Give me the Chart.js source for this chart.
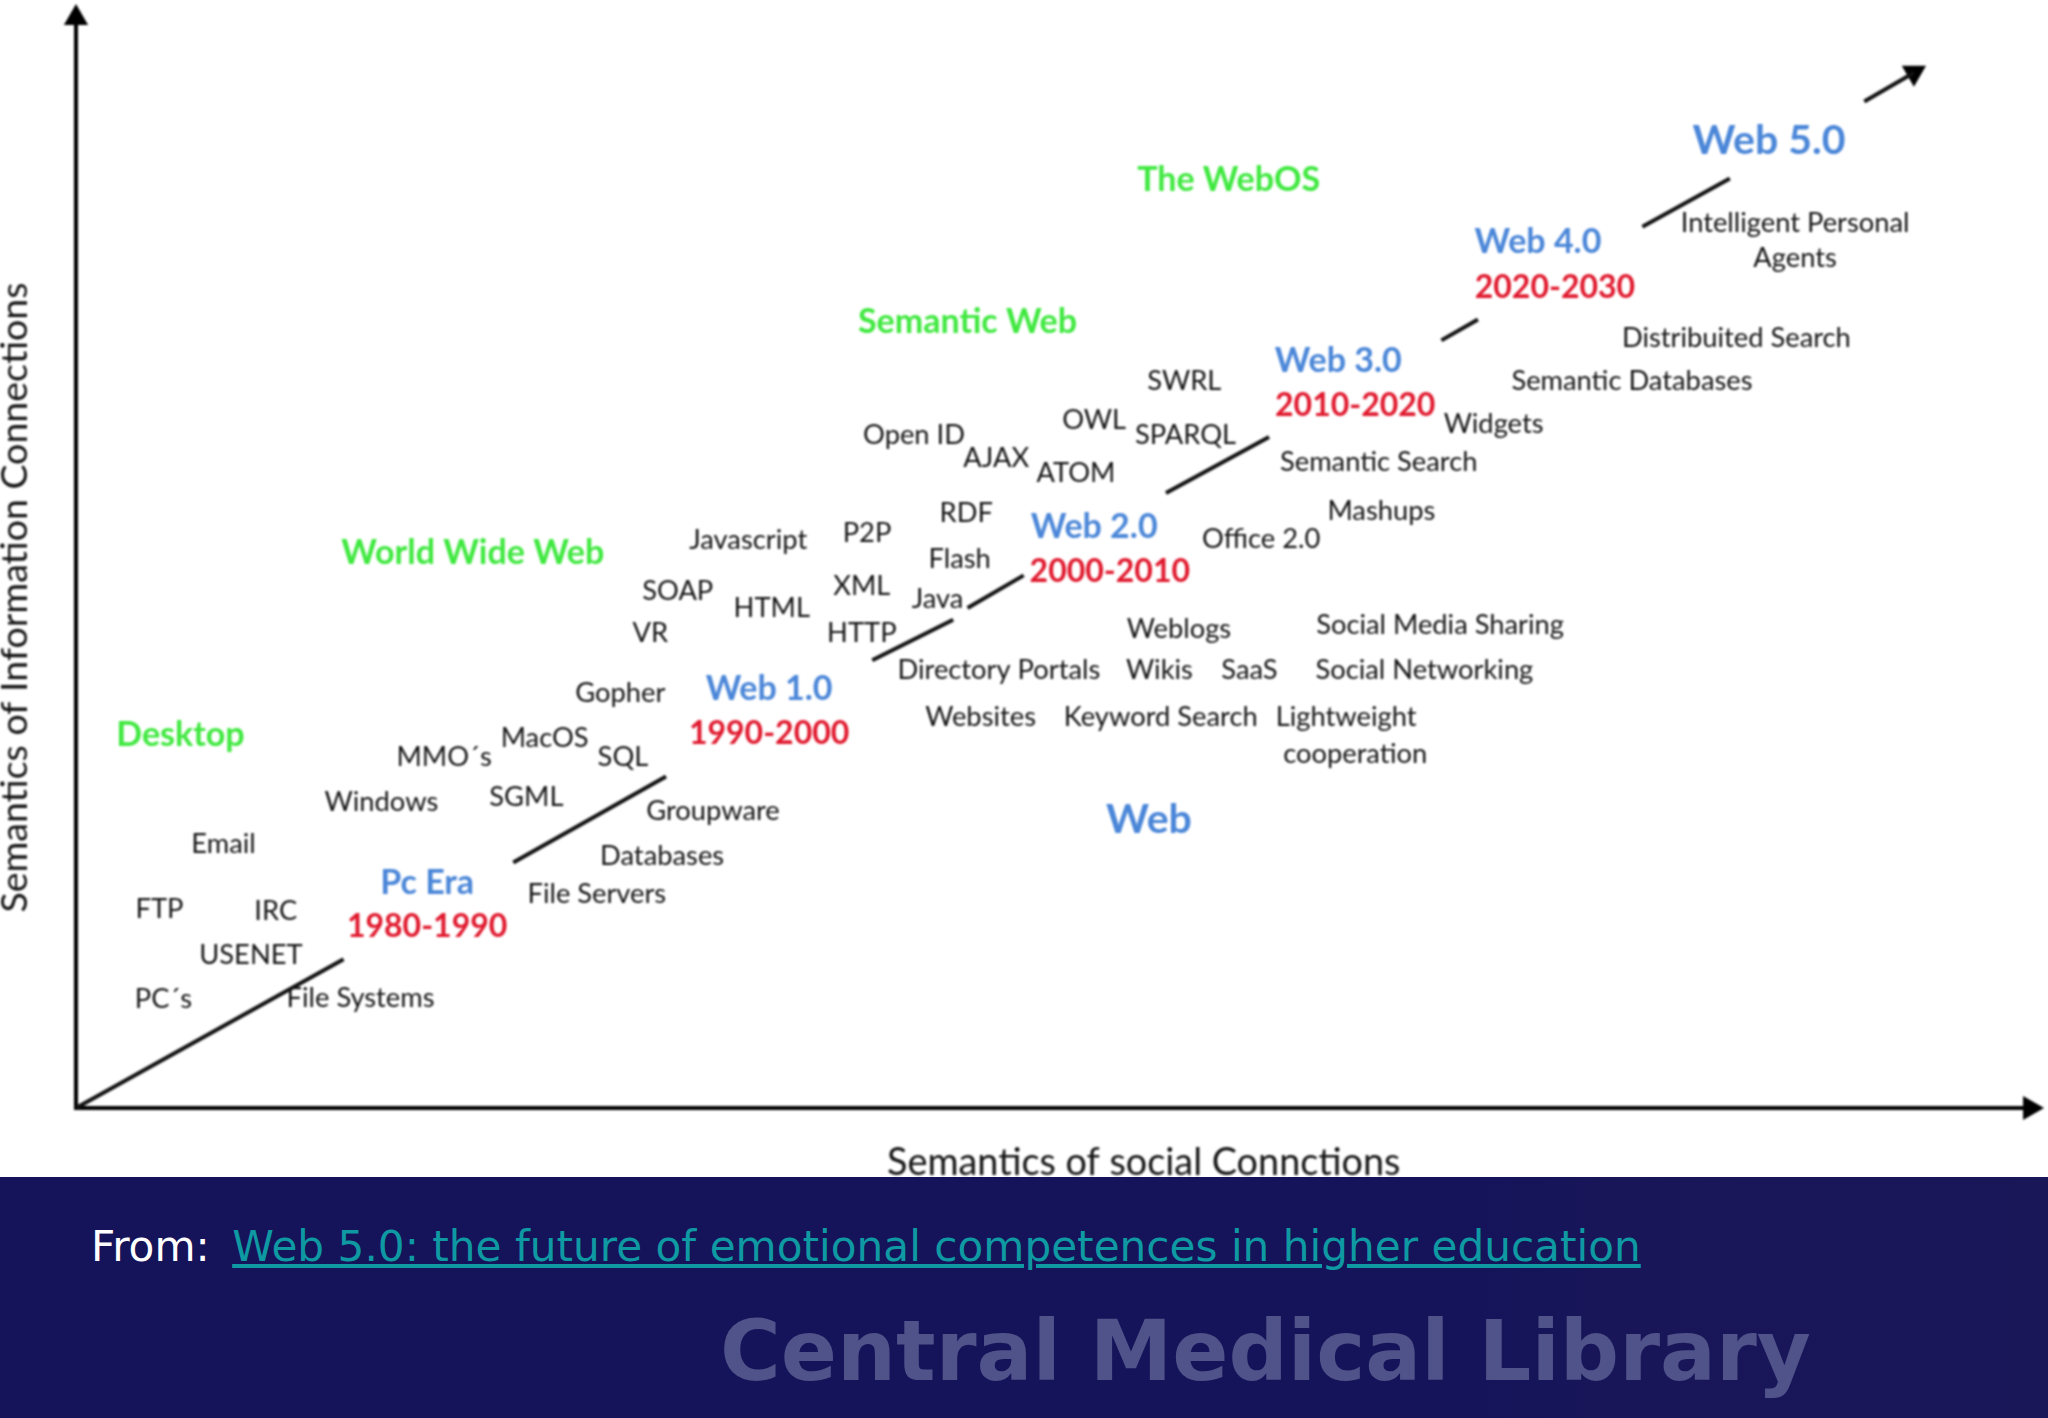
<!DOCTYPE html>
<html>
<head>
<meta charset="utf-8">
<style>
  html, body { margin: 0; padding: 0; background: #fff; overflow: hidden; }
  #wrap { position: relative; width: 2048px; height: 1418px; }
  #grafico { position: absolute; left: 0; top: 0; filter: blur(1.1px); }
  #faixa { position: absolute; left: 0; top: 1177px; width: 2048px; height: 241px; background: linear-gradient(90deg, #15135a 72%, #181659 78%, #191758 100%); font-family: "DejaVu Sans"; }
  #from { position: absolute; left: 91px; top: 46px; font-size: 42.2px; line-height: 48px; color: #fff; white-space: nowrap; }
  #from a { color: #0f9aa3; text-decoration: underline; margin-left: 9px; }
  #marca { position: absolute; left: 720px; top: 120px; font-size: 82.9px; line-height: 110px; font-weight: bold; color: #50528a; white-space: nowrap; }
</style>
</head>
<body>
<div id="wrap">
  <canvas id="grafico" width="2048" height="1177"></canvas>
  <div id="faixa">
    <div id="from">From: <a href="#">Web 5.0: the future of emotional competences in higher education</a></div>
    <div id="marca">Central Medical Library</div>
  </div>
</div>
<script src="https://cdn.jsdelivr.net/npm/chart.js@4"></script>
<script>
  /* ── Data ── */
  const xAxisTitle = 'Semantics of social Connctions';
  const yAxisTitle = 'Semantics of Information Connections';

  const termLabels = ["PC´s", 'File Systems', 'USENET', 'FTP', 'IRC', 'Email', 'Windows', "MMO´s", 'MacOS', 'SQL', 'SGML', 'Gopher',
    'Groupware', 'Databases', 'File Servers', 'VR', 'HTML', 'SOAP', 'Javascript', 'P2P', 'XML', 'HTTP', 'Java', 'Flash', 'RDF',
    'Open ID', 'AJAX', 'ATOM', 'OWL', 'SWRL', 'SPARQL', 'Directory Portals', 'Websites', 'Keyword Search', 'Weblogs', 'Wikis', 'SaaS',
    'Lightweight', 'cooperation', 'Social Media Sharing', 'Social Networking', 'Office 2.0', 'Mashups', 'Semantic Search', 'Widgets',
    'Semantic Databases', 'Distribuited Search', 'Intelligent Personal', 'Agents'];
  const termX = [67, 218, 134, 64, 153, 113, 234, 282, 359, 419, 345, 417,
    488, 449, 399, 440, 533, 461, 515, 606, 602, 602, 660, 677, 682,
    642, 705, 766, 780, 849, 850, 707, 693, 831, 845, 830, 899,
    973, 980, 1045, 1033, 908, 1000, 998, 1086,
    1192, 1272, 1317, 1317];
  const termY = [83, 84, 117, 152, 151, 202, 234, 269, 283, 269, 238, 318,
    227, 193, 164, 364, 383, 396, 435, 440, 400, 364, 390, 420, 456,
    515, 498, 486, 527, 557, 515, 335, 299, 299, 367, 335, 335,
    299, 271, 370, 335, 436, 457, 495, 524,
    557, 590, 678, 651];

  const eraLabels = ['Pc Era', 'Web 1.0', 'Web 2.0', 'Web 3.0', 'Web 4.0'];
  const eraX = [269, 531, 780, 967, 1120];
  const eraY = [172, 321, 445, 572, 663];

  const bigLabels = ['Web 5.0', 'Web'];
  const bigX = [1297, 822];
  const bigY = [741, 221];

  const yearLabels = ['1980-1990', '1990-2000', '2000-2010', '2010-2020', '2020-2030'];
  const yearX = [269, 531, 792, 980, 1133];
  const yearY = [139, 287, 411, 538, 628];

  const stageLabels = ['Desktop', 'World Wide Web', 'Semantic Web', 'The WebOS'];
  const stageX = [80, 304, 683, 883];
  const stageY = [286, 425, 602, 711];

  // trechos da diagonal entre as eras
  const trendX = [[0, 205], [335, 452], [610, 672], [683, 726], [835, 914], [1046, 1074], [1200, 1267], [1370, 1408]];
  const trendY = [[0, 114], [188, 254], [343, 374], [383, 408], [471, 514], [588, 604], [675, 712], [771, 793]];

  // pontas de seta: eixo y, eixo x, diagonal
  const arrowX = [0, 1497, 1408];
  const arrowY = [835, 0, 793];
  const arrowRotation = [0, 90, 60];

  const FONTE = 'Lato';

  /* ── Textos desenhados pelas escalas do gráfico ── */
  function escreverGrupo(chart, labels, xs, ys, font, cor) {
    const { ctx, scales: { x, y } } = chart;
    ctx.font = font;
    ctx.fillStyle = cor;
    labels.forEach((txt, i) => {
      ctx.fillText(txt, x.getPixelForValue(xs[i]), y.getPixelForValue(ys[i]));
    });
  }

  const textosPlugin = {
    id: 'textos',
    afterDatasetsDraw(chart) {
      const { ctx, scales: { x, y } } = chart;
      ctx.save();
      ctx.textAlign = 'center';
      ctx.textBaseline = 'middle';
      escreverGrupo(chart, termLabels, termX, termY, `27.3px ${FONTE}`, '#141414');
      escreverGrupo(chart, eraLabels, eraX, eraY, `bold 34px ${FONTE}`, '#4a86d8');
      escreverGrupo(chart, bigLabels, bigX, bigY, `bold 41px ${FONTE}`, '#4a86d8');
      escreverGrupo(chart, yearLabels, yearX, yearY, `bold 32px ${FONTE}`, '#e0182d');
      escreverGrupo(chart, stageLabels, stageX, stageY, `bold 34px ${FONTE}`, '#3fe83f');

      escreverGrupo(chart, [xAxisTitle], [818], [-42], `37.8px ${FONTE}`, '#141414');
      ctx.translate(x.getPixelForValue(-47), y.getPixelForValue(391));
      ctx.rotate(-Math.PI / 2);
      ctx.font = `37.5px ${FONTE}`;
      ctx.fillStyle = '#141414';
      ctx.fillText(yAxisTitle, 0, 0);
      ctx.restore();
    }
  };

  const trendDatasets = trendX.map((xs, i) => ({
    data: xs.map((v, j) => ({ x: v, y: trendY[i][j] })),
    showLine: true,
    borderColor: '#111',
    borderWidth: 4,
    pointRadius: 0,
    clip: false
  }));

  new Chart(document.getElementById('grafico'), {
    type: 'scatter',
    data: {
      datasets: [
        ...trendDatasets,
        {
          data: arrowX.map((v, i) => ({ x: v, y: arrowY[i] })),
          pointStyle: 'triangle',
          pointRadius: 14,
          pointRotation: arrowRotation,
          pointBackgroundColor: '#000',
          pointBorderWidth: 0,
          clip: false
        }
      ]
    },
    options: {
      responsive: false,
      animation: false,
      devicePixelRatio: 1,
      layout: { padding: { top: 8, right: 12, left: 0, bottom: 0 } },
      plugins: { legend: { display: false }, tooltip: { enabled: false } },
      scales: {
        x: {
          type: 'linear', min: 0, max: 1500,
          ticks: { display: false },
          grid: { display: false },
          border: { color: '#000', width: 4 },
          afterFit(s) { s.height = 69; }
        },
        y: {
          type: 'linear', min: 0, max: 838,
          ticks: { display: false },
          grid: { display: false },
          border: { color: '#000', width: 4 },
          afterFit(s) { s.width = 76; }
        }
      }
    },
    plugins: [textosPlugin]
  });
</script>
</body>
</html>
